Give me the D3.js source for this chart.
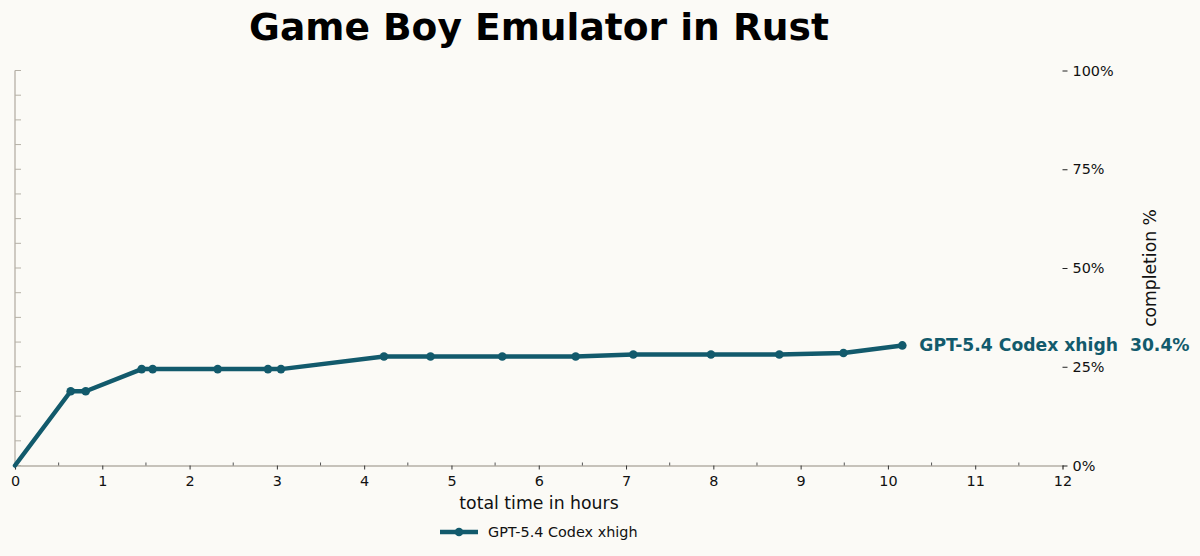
<!DOCTYPE html>
<html><head><meta charset="utf-8">
<script src="https://cdn.jsdelivr.net/npm/d3@7"></script>
<style>
html,body{margin:0;padding:0;background:#fbfaf6;}
svg{display:block;font-family:"DejaVu Sans",sans-serif;}
</style></head>
<body>
<svg id="chart" width="1200" height="556"></svg>
<script>
const seriesName = "GPT-5.4 Codex xhigh";
const hours = [0, 0.638, 0.810, 1.451, 1.577, 2.322, 2.898, 3.047, 4.227, 4.760, 5.582, 6.423, 7.083, 7.973, 8.756, 9.491, 10.165];
const completion = [0, 18.8, 18.8, 24.4, 24.4, 24.4, 24.4, 24.4, 27.6, 27.6, 27.6, 27.6, 28.1, 28.1, 28.1, 28.5, 30.4];
const xTicks = [0,1,2,3,4,5,6,7,8,9,10,11,12];
const yTicks = [0,25,50,75,100];
const finalLabel = "GPT-5.4 Codex xhigh  30.4%";

const color = "#125a6c";
const svg = d3.select("#chart");
svg.append("rect").attr("width",1200).attr("height",556).attr("fill","#fbfaf6");

const x = d3.scaleLinear().domain([0,12]).range([15,1062.5]);
const y = d3.scaleLinear().domain([0,100]).range([465.5,70.5]);
const data = hours.map((h,i)=>({h, v: completion[i]}));

// title
svg.append("text").attr("x",539).attr("y",40).attr("text-anchor","middle")
  .attr("font-size",37.6).attr("font-weight","bold").attr("fill","#000")
  .text("Game Boy Emulator in Rust");

const axisGray = "#b5b0a6";
// left axis line with minor ticks (no labels)
svg.append("line").attr("x1",x(0)).attr("x2",x(0)).attr("y1",y(100)).attr("y2",y(0))
  .attr("stroke",axisGray).attr("stroke-width",1.3);
const leftMinor = d3.range(0,100.01,6.25);
svg.append("g").selectAll("line").data(leftMinor).join("line")
  .attr("x1",x(0)).attr("x2",x(0)+6).attr("y1",d=>y(d)).attr("y2",d=>y(d))
  .attr("stroke",axisGray).attr("stroke-width",1);

// bottom axis
const xAxis = d3.axisBottom(x).tickValues(xTicks).tickFormat(d3.format("d")).tickSize(4).tickPadding(6);
const gx = svg.append("g").attr("transform",`translate(0,${y(0)})`).call(xAxis);
gx.select(".domain").attr("stroke",axisGray).attr("stroke-width",1.3);
gx.selectAll(".tick line").attr("stroke","#333").attr("stroke-width",1);
gx.selectAll(".tick text").attr("font-size",14.4).attr("fill","#111").attr("font-family","DejaVu Sans");
// minor x ticks (up)
const xMinor = d3.range(0.5,12,1);
svg.append("g").selectAll("line").data(xMinor).join("line")
  .attr("x1",d=>x(d)).attr("x2",d=>x(d)).attr("y1",y(0)).attr("y2",y(0)-3)
  .attr("stroke","#555").attr("stroke-width",1);

// right axis (no domain line)
const yAxis = d3.axisRight(y).tickValues(yTicks).tickFormat(d=>d+"%").tickSize(5).tickPadding(5);
const gy = svg.append("g").attr("transform",`translate(${x(12)},0)`).call(yAxis);
gy.select(".domain").remove();
gy.selectAll(".tick line").attr("stroke","#222").attr("stroke-width",1);
gy.selectAll(".tick text").attr("font-size",14.4).attr("fill","#111").attr("font-family","DejaVu Sans");

// axis titles
svg.append("text").attr("x",539).attr("y",509).attr("text-anchor","middle")
  .attr("font-size",17.3).attr("fill","#111").text("total time in hours");
svg.append("text").attr("transform","translate(1156,268) rotate(-90)").attr("text-anchor","middle")
  .attr("font-size",17.2).attr("fill","#111").text("completion %");

// line
const line = d3.line().x(d=>x(d.h)).y(d=>y(d.v));
svg.append("path").datum(data).attr("d",line).attr("fill","none")
  .attr("stroke",color).attr("stroke-width",4.5).attr("stroke-linejoin","round").attr("stroke-linecap","round");
svg.append("g").selectAll("circle").data(data.slice(1)).join("circle")
  .attr("cx",d=>x(d.h)).attr("cy",d=>y(d.v)).attr("r",4.3).attr("fill",color);

// end label
const last = data[data.length-1];
svg.append("text").attr("x",x(last.h)+17).attr("y",y(last.v)+6)
  .attr("font-size",17.2).attr("font-weight","bold").attr("fill",color)
  .attr("xml:space","preserve").style("white-space","pre").text(finalLabel);

// legend
svg.append("line").attr("x1",440).attr("x2",478).attr("y1",532).attr("y2",532)
  .attr("stroke",color).attr("stroke-width",4.5);
svg.append("circle").attr("cx",459).attr("cy",532).attr("r",4.3).attr("fill",color);
svg.append("text").attr("x",488).attr("y",537).attr("font-size",14.4).attr("fill","#111").text(seriesName);
</script>
</body></html>
